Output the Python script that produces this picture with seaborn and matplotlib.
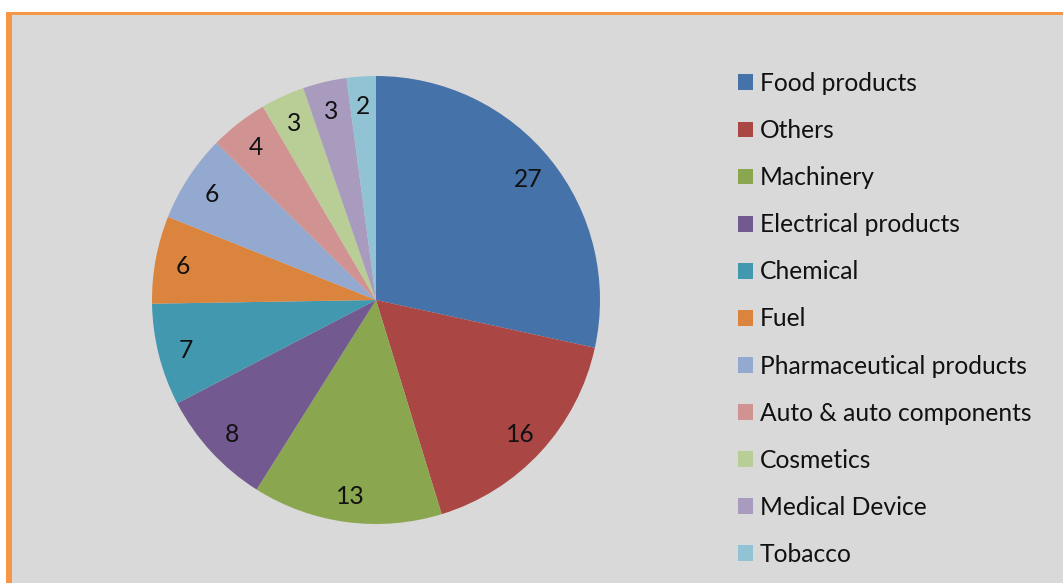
import matplotlib
matplotlib.use("Agg")
import matplotlib.pyplot as plt
import matplotlib.patches as mpatches
import seaborn as sns

categories = ["Food products", "Others", "Machinery", "Electrical products", "Chemical",
              "Fuel", "Pharmaceutical products", "Auto & auto components", "Cosmetics",
              "Medical Device", "Tobacco"]
values = [27, 16, 13, 8, 7, 6, 6, 4, 3, 3, 2]
colors = ["#4572A8", "#AA4644", "#8AA64F", "#72598F", "#4198AF", "#DB843D",
          "#93A9CF", "#D19392", "#B9CD97", "#A99BBD", "#92C3D4"]

sns.set_style("white")
plt.rcParams['font.family'] = ['Lato', 'DejaVu Sans']

W, H = 1063, 583
FS = 17.7
fig = plt.figure(figsize=(W / 100, H / 100), dpi=100)
fig.patch.set_facecolor("white")

# frame: orange border (left/top) and gray panel
fig.patches.append(mpatches.Rectangle((6 / W, 0), 1, 1 - 12 / H, transform=fig.transFigure,
                                      facecolor="#F79646", edgecolor="none", zorder=-10))
fig.patches.append(mpatches.Rectangle((12 / W, 0), 1, 1 - 15 / H, transform=fig.transFigure,
                                      facecolor="#D9D9D9", edgecolor="none", zorder=-9))

cx, cy, r = 376, 300, 224
ax = fig.add_axes([(cx - r) / W, (H - cy - r) / H, 2 * r / W, 2 * r / H])
ax.set_zorder(5)
ax.set_facecolor("none")
total = sum(values)
wedges, texts, autotexts = ax.pie(
    values, colors=sns.color_palette(colors), startangle=90, counterclock=False,
    autopct=lambda p: f"{round(p * total / 100):.0f}", pctdistance=0.875,
    wedgeprops=dict(linewidth=0), textprops=dict(fontsize=FS, color="#111111"))
for t in autotexts:
    t.set_va("center_baseline")
ax.set_xlim(-1, 1)
ax.set_ylim(-1, 1)
ax.set_aspect("equal")
ax.axis("off")

leg = fig.legend(wedges, categories, loc="upper left",
                 bbox_to_anchor=(738 / W, 1 - 72 / H), bbox_transform=fig.transFigure,
                 frameon=False, fontsize=FS, handlelength=15 / (FS * 100 / 72),
                 handleheight=15 / (FS * 100 / 72), handletextpad=0.28,
                 labelspacing=0.98, borderpad=0, borderaxespad=0)
for t in leg.get_texts():
    t.set_color("#111111")
leg.set_zorder(6)

fig.savefig("out.png", dpi=100, facecolor=fig.get_facecolor())
